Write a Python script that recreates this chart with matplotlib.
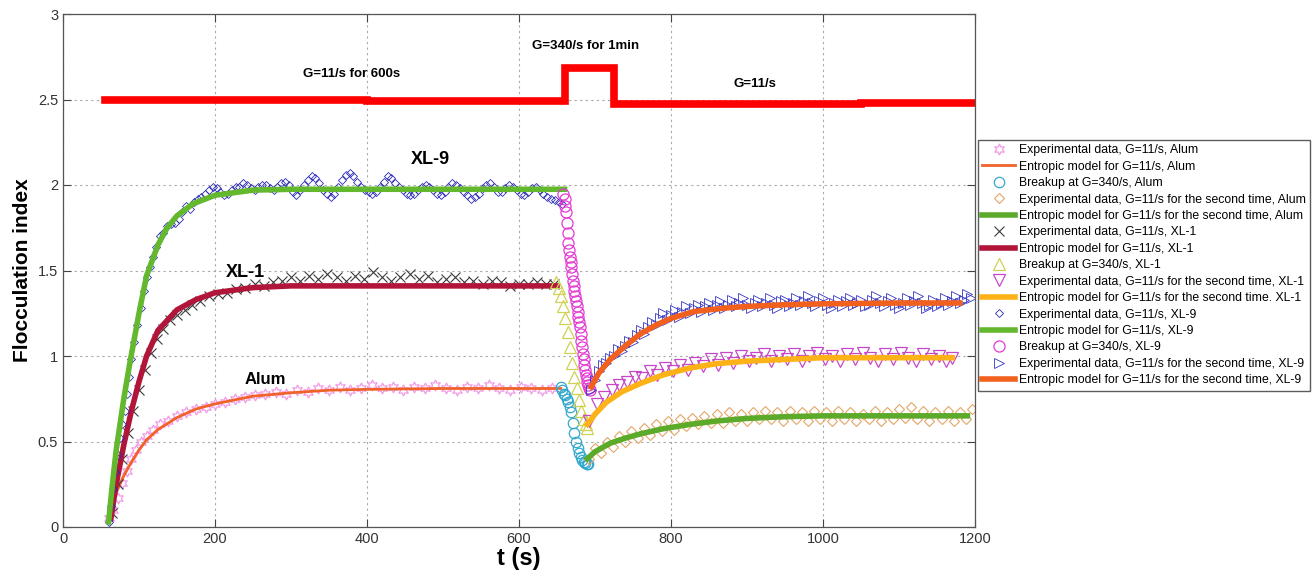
import matplotlib
matplotlib.use("Agg")
import matplotlib.pyplot as plt

plt.rcParams['font.family'] = ['Liberation Sans', 'DejaVu Sans']

# ---- shear-rate schedule (red step line) ----
g_t = [55, 265, 400, 660, 725, 1050, 1200]
g_y = [2.50, 2.495, 2.49, 2.685, 2.475, 2.48, 2.48]

# ---- Alum ----
alum_exp_t = [60, 66, 72, 78, 84, 90, 96, 102, 110, 118, 128, 138, 150, 162, 175, 188, 200, 213, 226, 240,
              253, 266, 280, 294, 308, 322, 336, 350, 364, 378, 392, 406, 420, 434, 448, 462, 476, 490, 504,
              518, 532, 546, 560, 574, 588, 602, 616, 630, 644]
alum_exp_y = [0.05, 0.10, 0.17, 0.26, 0.33, 0.40, 0.45, 0.50, 0.53, 0.57, 0.60, 0.62, 0.65, 0.67, 0.69, 0.70,
              0.72, 0.73, 0.75, 0.76, 0.77, 0.78, 0.79, 0.78, 0.80, 0.79, 0.81, 0.80, 0.82, 0.80, 0.81, 0.83,
              0.81, 0.82, 0.80, 0.82, 0.81, 0.83, 0.81, 0.80, 0.82, 0.81, 0.83, 0.81, 0.80, 0.82, 0.81, 0.80, 0.81]
alum_mod_t = [60, 65, 70, 80, 90, 100, 110, 125, 150, 175, 200, 250, 300, 350, 400, 500, 655]
alum_mod_y = [0.05, 0.13, 0.20, 0.30, 0.38, 0.45, 0.51, 0.57, 0.64, 0.69, 0.72, 0.765, 0.785, 0.80, 0.805, 0.81, 0.81]
alum_brk_t = [655, 657, 659, 661, 663, 665, 667, 669, 671, 673, 675, 677, 679, 681, 683, 685, 687, 689, 691]
alum_brk_y = [0.82, 0.80, 0.78, 0.77, 0.75, 0.73, 0.70, 0.67, 0.61, 0.55, 0.50, 0.46, 0.43, 0.41, 0.39, 0.38,
              0.375, 0.37, 0.37]
alum_exp2_t = [692, 700, 708, 716, 724, 732, 740, 748, 756, 764, 772, 780, 788, 796, 804, 812, 820, 828, 836,
               844, 852, 860, 868, 876, 884, 892, 900, 908, 916, 924, 932, 940, 948, 956, 964, 972, 980, 988,
               996, 1004, 1012, 1020, 1028, 1036, 1044, 1052, 1060, 1068, 1076, 1084, 1092, 1100, 1108, 1116,
               1124, 1132, 1140, 1148, 1156, 1164, 1172, 1180, 1188, 1196]
alum_exp2_y = [0.40, 0.46, 0.43, 0.50, 0.47, 0.53, 0.50, 0.56, 0.52, 0.58, 0.54, 0.60, 0.56, 0.62, 0.57, 0.63,
               0.59, 0.64, 0.60, 0.65, 0.61, 0.66, 0.61, 0.67, 0.62, 0.66, 0.62, 0.67, 0.63, 0.68, 0.63, 0.67,
               0.62, 0.68, 0.63, 0.67, 0.62, 0.68, 0.63, 0.67, 0.62, 0.68, 0.63, 0.67, 0.62, 0.66, 0.63, 0.68,
               0.62, 0.67, 0.63, 0.69, 0.64, 0.70, 0.63, 0.68, 0.62, 0.67, 0.63, 0.68, 0.62, 0.67, 0.63, 0.69]
alum_mod2_t = [690, 700, 720, 740, 760, 790, 825, 860, 900, 950, 1000, 1100, 1190]
alum_mod2_y = [0.40, 0.44, 0.49, 0.52, 0.545, 0.575, 0.60, 0.62, 0.635, 0.645, 0.65, 0.65, 0.65]

# ---- XL-1 ----
xl1_exp_t = [65, 72, 78, 85, 92, 100, 108, 116, 124, 132, 141, 150, 160, 170, 180, 192, 204, 216, 228, 240,
             252, 264, 276, 288, 300, 312, 324, 336, 348, 360, 372, 384, 396, 408, 420, 432, 444, 456, 468,
             480, 492, 504, 516, 528, 540, 552, 564, 576, 588, 600, 612, 624, 636, 646]
xl1_exp_y = [0.08, 0.25, 0.40, 0.55, 0.68, 0.80, 0.92, 1.02, 1.10, 1.16, 1.21, 1.24, 1.27, 1.30, 1.32, 1.35,
             1.36, 1.37, 1.39, 1.40, 1.42, 1.41, 1.43, 1.44, 1.46, 1.44, 1.47, 1.45, 1.48, 1.46, 1.44, 1.47,
             1.45, 1.49, 1.46, 1.44, 1.46, 1.48, 1.45, 1.47, 1.43, 1.45, 1.46, 1.43, 1.44, 1.42, 1.44, 1.43,
             1.41, 1.42, 1.42, 1.43, 1.42, 1.42]
xl1_mod_t = [63, 70, 80, 90, 100, 110, 125, 150, 175, 200, 250, 300, 400, 650]
xl1_mod_y = [0.05, 0.25, 0.48, 0.68, 0.85, 1.00, 1.15, 1.27, 1.33, 1.37, 1.40, 1.41, 1.41, 1.41]
xl1_brk_t = [649, 652, 655, 658, 661, 664, 667, 670, 673, 676, 679, 682, 685, 688, 690]
xl1_brk_y = [1.43, 1.40, 1.35, 1.29, 1.22, 1.14, 1.05, 0.96, 0.88, 0.81, 0.74, 0.68, 0.63, 0.60, 0.58]
xl1_exp2_t = [692, 702, 712, 722, 732, 742, 752, 762, 772, 782, 792, 802, 812, 822, 832, 842, 852, 862, 872,
              882, 892, 902, 912, 922, 932, 942, 952, 962, 972, 982, 992, 1002, 1012, 1022, 1032, 1042, 1052,
              1062, 1072, 1082, 1092, 1102, 1112, 1122, 1132, 1142, 1152, 1162, 1170]
xl1_exp2_y = [0.62, 0.72, 0.76, 0.80, 0.83, 0.85, 0.88, 0.87, 0.91, 0.89, 0.93, 0.91, 0.95, 0.92, 0.96, 0.94,
              0.98, 0.95, 0.99, 0.96, 1.00, 0.97, 0.99, 1.01, 0.97, 1.00, 0.98, 1.01, 0.97, 1.00, 1.02, 0.98,
              1.00, 0.97, 1.01, 0.98, 1.02, 0.99, 0.97, 1.01, 0.98, 1.02, 0.99, 0.97, 1.01, 0.98, 1.00, 0.97, 0.99]
xl1_mod2_t = [690, 700, 715, 735, 760, 790, 825, 860, 900, 950, 1000, 1100, 1170]
xl1_mod2_y = [0.60, 0.66, 0.73, 0.79, 0.84, 0.89, 0.93, 0.955, 0.97, 0.98, 0.99, 0.99, 0.99]

# ---- XL-9 ----
xl9_exp_t = [60, 63, 66, 69, 72, 75, 78, 81, 84, 87, 90, 94, 98, 102, 106, 110, 114, 118, 122, 127, 132, 137,
             142, 147, 152, 157, 162, 167, 172, 177, 182, 187, 192, 197, 202, 207, 212, 217, 222, 227, 232,
             237, 242, 247, 252, 257, 262, 267, 272, 277, 282, 287, 292, 297, 302, 307, 312, 317, 322, 327,
             332, 337, 342, 347, 352, 357, 362, 367, 372, 377, 382, 387, 392, 397, 402, 407, 412, 417, 422,
             427, 432, 437, 442, 447, 452, 457, 462, 467, 472, 477, 482, 487, 492, 497, 502, 507, 512, 517,
             522, 527, 532, 537, 542, 547, 552, 557, 562, 567, 572, 577, 582, 587, 592, 597, 602, 607, 612,
             617, 622, 627, 632, 637, 642, 647, 652, 657]
xl9_exp_y = [0.03, 0.12, 0.22, 0.32, 0.42, 0.52, 0.60, 0.68, 0.78, 0.88, 0.98, 1.08, 1.18, 1.28, 1.38, 1.46,
             1.52, 1.58, 1.64, 1.70, 1.72, 1.76, 1.77, 1.78, 1.80, 1.84, 1.88, 1.86, 1.90, 1.92, 1.93, 1.95,
             1.97, 1.99, 1.98, 1.96, 1.94, 1.95, 1.97, 1.99, 1.99, 2.01, 2.00, 1.98, 1.97, 1.99, 2.00, 2.00,
             1.98, 1.97, 1.99, 2.01, 2.02, 2.00, 1.96, 1.94, 1.97, 2.00, 2.03, 2.05, 2.04, 2.01, 1.97, 1.95,
             1.93, 1.95, 1.99, 2.03, 2.06, 2.07, 2.05, 2.02, 1.99, 1.97, 1.96, 1.95, 1.96, 1.99, 2.02, 2.05,
             2.04, 2.01, 1.99, 1.97, 1.95, 1.94, 1.95, 1.97, 1.99, 2.00, 1.99, 1.97, 1.95, 1.94, 1.96, 1.99,
             2.01, 2.00, 1.98, 1.96, 1.94, 1.92, 1.93, 1.95, 1.98, 2.00, 2.01, 1.99, 1.96, 1.96, 1.98, 2.00,
             1.99, 1.97, 1.95, 1.94, 1.96, 1.98, 1.99, 1.97, 1.95, 1.93, 1.92, 1.91, 1.90, 1.89]
xl9_mod_t = [60, 65, 70, 75, 80, 88, 100, 110, 125, 137, 150, 171, 200, 250, 300, 660]
xl9_mod_y = [0.03, 0.25, 0.45, 0.60, 0.75, 0.96, 1.25, 1.47, 1.65, 1.75, 1.82, 1.89, 1.94, 1.97, 1.975, 1.975]
xl9_brk_t = [658, 660, 661, 662, 663, 664, 665, 666, 667, 668, 669, 670, 671, 672, 673, 674, 675, 676, 677,
             678, 679, 680, 681, 682, 683, 684, 685, 686, 687, 688, 689, 690, 691, 692, 693]
xl9_brk_y = [1.95, 1.92, 1.88, 1.84, 1.78, 1.72, 1.66, 1.62, 1.58, 1.55, 1.52, 1.48, 1.44, 1.41, 1.38, 1.35,
             1.32, 1.29, 1.26, 1.23, 1.20, 1.17, 1.13, 1.09, 1.05, 1.01, 0.98, 0.95, 0.92, 0.89, 0.87, 0.85,
             0.83, 0.81, 0.80]
xl9_exp2_t = [695, 700, 705, 710, 715, 720, 725, 730, 735, 740, 745, 750, 755, 760, 765, 770, 775, 780, 785,
              790, 795, 800, 805, 810, 815, 820, 825, 830, 835, 840, 845, 850, 855, 860, 865, 870, 875, 880,
              885, 890, 895, 900, 905, 910, 915, 920, 925, 930, 935, 940, 945, 950, 955, 960, 965, 970, 975,
              980, 985, 990, 995, 1000, 1005, 1010, 1015, 1020, 1025, 1030, 1035, 1040, 1045, 1050, 1055,
              1060, 1065, 1070, 1075, 1080, 1085, 1090, 1095, 1100, 1105, 1110, 1115, 1120, 1125, 1130, 1135,
              1140, 1145, 1150, 1155, 1160, 1165, 1170, 1175, 1180, 1185, 1190, 1195]
xl9_exp2_y = [0.80, 0.86, 0.91, 0.95, 0.96, 0.99, 1.00, 1.04, 1.03, 1.06, 1.09, 1.08, 1.12, 1.15, 1.13, 1.17,
              1.20, 1.18, 1.22, 1.25, 1.21, 1.24, 1.27, 1.23, 1.26, 1.29, 1.25, 1.28, 1.30, 1.26, 1.29, 1.31,
              1.27, 1.30, 1.32, 1.28, 1.30, 1.33, 1.29, 1.31, 1.34, 1.30, 1.28, 1.31, 1.33, 1.29, 1.31, 1.34,
              1.30, 1.28, 1.32, 1.33, 1.29, 1.31, 1.34, 1.30, 1.32, 1.35, 1.31, 1.29, 1.32, 1.34, 1.30, 1.28,
              1.31, 1.33, 1.29, 1.32, 1.34, 1.30, 1.31, 1.33, 1.29, 1.30, 1.33, 1.35, 1.31, 1.29, 1.32, 1.34,
              1.30, 1.28, 1.31, 1.34, 1.30, 1.32, 1.35, 1.31, 1.28, 1.30, 1.33, 1.29, 1.31, 1.34, 1.30, 1.32,
              1.35, 1.31, 1.33, 1.36, 1.34]
xl9_mod2_t = [695, 705, 720, 740, 760, 780, 800, 830, 870, 900, 950, 1000, 1100, 1180]
xl9_mod2_y = [0.82, 0.90, 0.98, 1.06, 1.13, 1.18, 1.22, 1.26, 1.28, 1.29, 1.30, 1.305, 1.31, 1.31]

labels = [
    "Experimental data, G=11/s, Alum",
    "Entropic model for G=11/s, Alum",
    "Breakup at G=340/s, Alum",
    "Experimental data, G=11/s for the second time, Alum",
    "Entropic model for G=11/s for the second time, Alum",
    "Experimental data, G=11/s, XL-1",
    "Entropic model for G=11/s, XL-1",
    "Breakup at G=340/s, XL-1",
    "Experimental data, G=11/s for the second time, XL-1",
    "Entropic model for G=11/s for the second time. XL-1",
    "Experimental data, G=11/s, XL-9",
    "Entropic model for G=11/s, XL-9",
    "Breakup at G=340/s, XL-9",
    "Experimental data, G=11/s for the second time, XL-9",
    "Entropic model for G=11/s for the second time, XL-9",
]

fig = plt.figure(figsize=(13.16, 5.77), dpi=100)
ax = fig.add_axes([63/1316, 50/577, 912/1316, 513/577])

hexagram = (6, 1, 0)
mk = dict(linestyle='none', fillstyle='none')

h = []
h += ax.plot(alum_exp_t, alum_exp_y, marker=hexagram, color='#F29BE8', ms=8, mew=0.9, **mk)
h += ax.plot(alum_mod_t, alum_mod_y, color='#F0622A', lw=2)
h += ax.plot(alum_brk_t, alum_brk_y, marker='o', color='#34A9CF', ms=7.5, mew=0.9, **mk)
h += ax.plot(alum_exp2_t, alum_exp2_y, marker='D', color='#E2A766', ms=5.5, mew=0.8, **mk)
h += ax.plot(alum_mod2_t, alum_mod2_y, color='#5BAA2A', lw=4)
h += ax.plot(xl1_exp_t, xl1_exp_y, marker='x', color='#3A3A3A', ms=7, mew=0.8, **mk)
h += ax.plot(xl1_mod_t, xl1_mod_y, color='#B1153A', lw=4)
h += ax.plot(xl1_brk_t, xl1_brk_y, marker='^', color='#CFD254', ms=8, mew=0.9, **mk)
h += ax.plot(xl1_exp2_t, xl1_exp2_y, marker='v', color='#C548C8', ms=8, mew=0.9, **mk)
h += ax.plot(xl1_mod2_t, xl1_mod2_y, color='#FDB318', lw=4)
h += ax.plot(xl9_exp_t, xl9_exp_y, marker='D', color='#2A2AB8', ms=4.5, mew=0.6, **mk)
h += ax.plot(xl9_mod_t, xl9_mod_y, color='#63B82E', lw=4)
h += ax.plot(xl9_brk_t, xl9_brk_y, marker='o', color='#E43AD4', ms=8, mew=0.9, **mk)
h += ax.plot(xl9_exp2_t, xl9_exp2_y, marker='>', color='#3535C4', ms=6.5, mew=0.6, **mk)
h += ax.plot(xl9_mod2_t, xl9_mod2_y, color='#F2601E', lw=4)

ax.plot(g_t, g_y, drawstyle='steps-post', color='#FF0000', lw=5.5, solid_joinstyle='miter')

ax.text(380, 2.65, "G=11/s for 600s", ha='center', va='center', fontsize=9.5, fontweight='bold')
ax.text(687, 2.81, "G=340/s for 1min", ha='center', va='center', fontsize=9.5, fontweight='bold')
ax.text(910, 2.59, "G=11/s", ha='center', va='center', fontsize=9.5, fontweight='bold')
ax.text(483, 2.15, "XL-9", ha='center', va='center', fontsize=13, fontweight='bold')
ax.text(240, 1.49, "XL-1", ha='center', va='center', fontsize=13, fontweight='bold')
ax.text(266, 0.86, "Alum", ha='center', va='center', fontsize=12, fontweight='bold')

ax.set_xlim(0, 1200)
ax.set_ylim(0, 3)
ax.set_xticks([0, 200, 400, 600, 800, 1000, 1200])
ax.set_yticks([0, 0.5, 1, 1.5, 2, 2.5, 3])
ax.set_yticklabels(['0', '0.5', '1', '1.5', '2', '2.5', '3'])
ax.grid(True, linestyle=(0, (2, 3)), color='#a8a8a8', lw=0.8)
ax.tick_params(direction='in', top=True, right=True, length=6, width=0.8, colors='#444444',
               labelsize=10.5, labelcolor='#333333')
for s in ax.spines.values():
    s.set_color('#555555')
    s.set_linewidth(0.9)

ax.set_xlabel("t (s)", fontsize=17, fontweight='bold', labelpad=1)
ax.set_ylabel("Flocculation index", fontsize=15, fontweight='bold', labelpad=4)

leg = fig.legend(h, labels, loc='upper left', bbox_to_anchor=(978/1316, 1 - 140/577),
                 borderaxespad=0, fontsize=8.85, frameon=True, fancybox=False, edgecolor='#333333',
                 handlelength=2.7, labelspacing=0.36, handletextpad=0.3, borderpad=0.35)
leg.get_frame().set_linewidth(1.0)

fig.savefig("out.png", dpi=100)
